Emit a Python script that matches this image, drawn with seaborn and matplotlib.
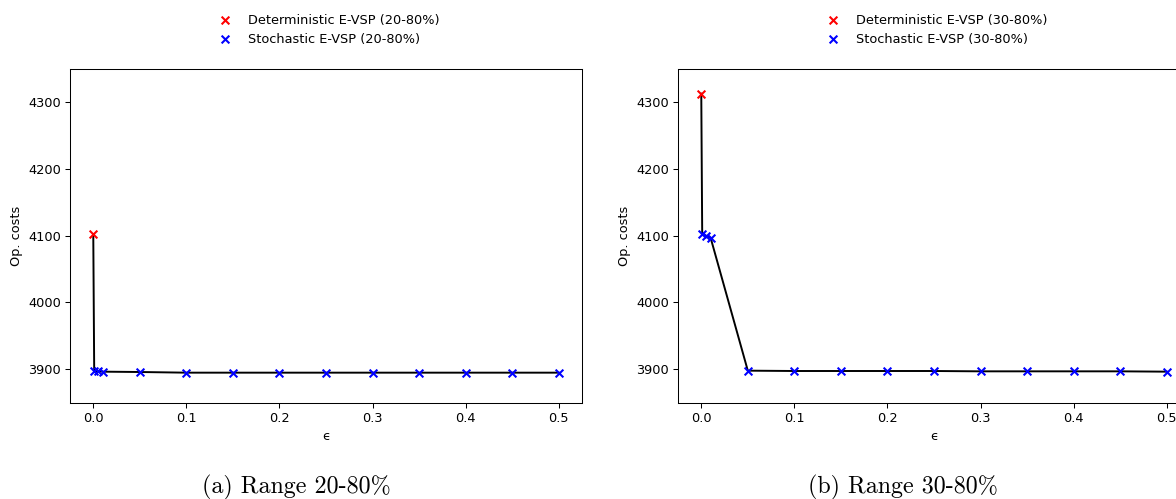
import matplotlib
matplotlib.use("Agg")
import matplotlib.pyplot as plt
import seaborn as sns
import numpy as np

# ---- data ----
eps_det = [0.0]
eps_sto = [0.001, 0.005, 0.01, 0.05, 0.1, 0.15, 0.2, 0.25, 0.3, 0.35, 0.4, 0.45, 0.5]

det_20 = [4102]
sto_20 = [3896.5, 3896.5, 3896, 3895.5, 3894.5, 3894.5, 3894.5, 3894.5, 3894.5, 3894.5, 3894.5, 3894.5, 3894.5]

det_30 = [4313]
sto_30 = [4103, 4100, 4097, 3897.5, 3897, 3897, 3897, 3897, 3896.5, 3896.5, 3896.5, 3896.5, 3896]

labels_20 = ["Deterministic E-VSP (20-80%)", "Stochastic E-VSP (20-80%)"]
labels_30 = ["Deterministic E-VSP (30-80%)", "Stochastic E-VSP (30-80%)"]
captions = ["(a) Range 20-80%", "(b) Range 30-80%"]
xticks = [0.0, 0.1, 0.2, 0.3, 0.4, 0.5]
yticks = [3900, 4000, 4100, 4200, 4300]

S = 0.93  # overall scale of the original rendering
FS = 10 * S

W, H = 1176, 499
fig = plt.figure(figsize=(W / 100, H / 100), dpi=100)
fig.patch.set_facecolor("white")

def px_axes(x0, y0, x1, y1):
    return fig.add_axes([x0 / W, 1 - y1 / H, (x1 - x0) / W, (y1 - y0) / H])

axL = px_axes(70, 69, 582, 403)
axR = px_axes(678, 69, 1190, 403)

panels = [(axL, det_20, sto_20, labels_20), (axR, det_30, sto_30, labels_30)]
for ax, det, sto, labs in panels:
    xs = eps_det + eps_sto
    ys = det + sto
    sns.lineplot(x=xs, y=ys, ax=ax, color="black", linewidth=1.5 * S, sort=False,
                 estimator=None, zorder=1)
    sns.scatterplot(x=eps_det, y=det, ax=ax, marker="x", color="red", s=36 * S * S,
                    linewidth=1.6 * S, label=labs[0], zorder=3)
    sns.scatterplot(x=eps_sto, y=sto, ax=ax, marker="x", color="blue", s=36 * S * S,
                    linewidth=1.6 * S, label=labs[1], zorder=3)
    ax.set_xlim(-0.025, 0.525)
    ax.set_ylim(3849, 4350)
    ax.set_xticks(xticks)
    ax.set_yticks(yticks)
    ax.set_xlabel("\u03f5", fontsize=FS, labelpad=4 * S)
    ax.set_ylabel("Op. costs", fontsize=FS, labelpad=4 * S)
    ax.tick_params(labelsize=FS, length=3.5 * S, width=0.8 * S, pad=3.5 * S)
    for sp in ax.spines.values():
        sp.set_linewidth(0.8 * S)
    ax.legend(loc="lower center", bbox_to_anchor=(0.5, 1.035), frameon=False,
              fontsize=FS, handletextpad=0.8, labelspacing=0.45)

fig.text(296 / W, 1 - 487 / H, captions[0], ha="center", va="center",
         fontsize=17.3, family="cmr10")
fig.text(903 / W, 1 - 487 / H, captions[1], ha="center", va="center",
         fontsize=17.3, family="cmr10")

fig.savefig("out.png", dpi=100)
